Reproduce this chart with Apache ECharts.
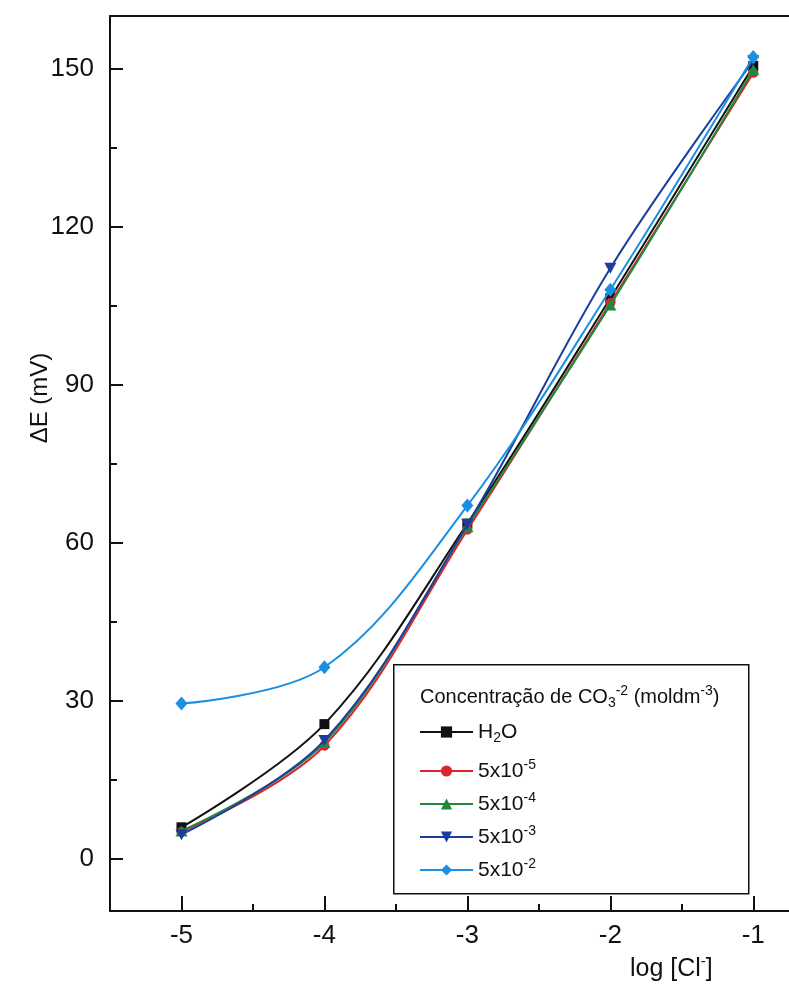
<!DOCTYPE html>
<html>
<head>
<meta charset="utf-8">
<script src="https://cdn.jsdelivr.net/npm/echarts@6/dist/echarts.min.js"></script>
<style>
html,body{margin:0;padding:0;background:#fff;}
#chart{width:789px;height:985px;}
</style>
</head>
<body>
<div id="chart"></div>
<script>
// ---- data ----
const logCl = [-5, -4, -3, -2, -1];
const seriesNames = ['H2O', '5x10-5', '5x10-4', '5x10-3', '5x10-2'];
const valH2O  = [5.9, 25.5, 63.6, 106.4, 150.5];
const val5e5  = [5.0, 21.4, 62.4, 105.5, 149.2];
const val5e4  = [5.2, 22.0, 63.0, 105.1, 149.8];
const val5e3  = [4.5, 22.4, 63.4, 112.1, 151.5];
const val5e2  = [29.4, 36.3, 67.0, 108.0, 152.2];
const yMajorTicks = [0, 30, 60, 90, 120, 150];
const yMinorTicks = [15, 45, 75, 105, 135];
const xMajorTicks = [-5, -4, -3, -2, -1];
const xMinorTicks = [-4.5, -3.5, -2.5, -1.5];

const allValues = [valH2O, val5e5, val5e4, val5e3, val5e2];
const colors = ['#111111', '#d9262e', '#1d8a3e', '#1c3d9f', '#1b8fe0'];
const symbols = ['rect', 'circle', 'triangle', 'triangle', 'diamond'];
const symbolRot = [0, 0, 0, 180, 0];
const symbolSizes = [[10,10], [10,10], [12,11], [12,11], [12,14]];
const legendLabels = {
  'H2O': 'H{sub|2}O',
  '5x10-5': '5x10{sup|-5}',
  '5x10-4': '5x10{sup|-4}',
  '5x10-3': '5x10{sup|-3}',
  '5x10-2': '5x10{sup|-2}'
};
const legendRowY = [732, 771, 804, 837, 870];

const FONT = '"Liberation Sans", Arial, sans-serif';
const chart = echarts.init(document.getElementById('chart'));

const series = seriesNames.map((n, i) => ({
  name: n,
  type: 'line',
  smooth: 0.35,
  data: logCl.map((x, k) => [x, allValues[i][k]]),
  symbol: symbols[i],
  symbolRotate: symbolRot[i],
  symbolSize: symbolSizes[i],
  showAllSymbol: true,
  lineStyle: { color: colors[i], width: 2 },
  itemStyle: { color: colors[i] },
  z: 2 + i
}));

const richText = {
  sup: { fontSize: 14, fontFamily: FONT, color: '#111', verticalAlign: 'top', lineHeight: 26 },
  sub: { fontSize: 14, fontFamily: FONT, color: '#111', verticalAlign: 'bottom', lineHeight: 26 }
};

const legends = seriesNames.map((n, i) => ({
  data: [n],
  left: 419,
  top: legendRowY[i] - 13,
  orient: 'vertical',
  padding: 0,
  itemWidth: 53,
  itemHeight: 14,
  itemGap: 5,
  selectedMode: false,
  formatter: name => legendLabels[name],
  textStyle: {
    fontFamily: FONT, fontSize: 21, color: '#111', lineHeight: 26,
    rich: richText
  }
}));

const option = {
  animation: false,
  backgroundColor: '#ffffff',
  grid: { left: 110, top: 16, right: 0, bottom: 74, containLabel: false },
  xAxis: [
    {
      type: 'value', position: 'bottom', min: -5.5, max: -0.75,
      axisLine: { show: true, onZero: false, lineStyle: { color: '#111', width: 2 } },
      axisTick: { show: true, inside: true, length: 15, customValues: xMajorTicks, lineStyle: { color: '#111', width: 2 } },
      axisLabel: { show: true, customValues: xMajorTicks, margin: 12, fontFamily: FONT, fontSize: 26, color: '#111' },
      splitLine: { show: false }
    },
    {
      type: 'value', position: 'bottom', min: -5.5, max: -0.75,
      axisLine: { show: false, onZero: false },
      axisTick: { show: true, inside: true, length: 7, customValues: xMinorTicks, lineStyle: { color: '#111', width: 2 } },
      axisLabel: { show: false },
      splitLine: { show: false }
    },
    {
      type: 'value', position: 'top', min: -5.5, max: -0.75,
      axisLine: { show: true, onZero: false, lineStyle: { color: '#111', width: 2 } },
      axisTick: { show: false }, axisLabel: { show: false }, splitLine: { show: false }
    }
  ],
  yAxis: [
    {
      type: 'value', position: 'left', min: -10, max: 160,
      axisLine: { show: true, onZero: false, lineStyle: { color: '#111', width: 2 } },
      axisTick: { show: true, inside: true, length: 13, customValues: yMajorTicks, lineStyle: { color: '#111', width: 2 } },
      axisLabel: { show: true, customValues: yMajorTicks, margin: 16, fontFamily: FONT, fontSize: 26, color: '#111' },
      splitLine: { show: false }
    },
    {
      type: 'value', position: 'left', min: -10, max: 160,
      axisLine: { show: false, onZero: false },
      axisTick: { show: true, inside: true, length: 7, customValues: yMinorTicks, lineStyle: { color: '#111', width: 2 } },
      axisLabel: { show: false },
      splitLine: { show: false }
    }
  ],
  legend: legends,
  graphic: [
    {
      type: 'rect', left: 393, top: 664, z: 1,
      shape: { width: 355, height: 229 },
      style: { fill: '#fff', stroke: '#111', lineWidth: 1.5 }
    },
    {
      type: 'text', left: 420, top: 684, z: 10,
      style: {
        text: 'Concentração de CO{sub|3}{sup|-2} (moldm{sup|-3})',
        fontFamily: FONT, fontSize: 20, fill: '#111', lineHeight: 26,
        rich: {
          sup: { fontSize: 14, fontFamily: FONT, fill: '#111', verticalAlign: 'top', lineHeight: 26 },
          sub: { fontSize: 14, fontFamily: FONT, fill: '#111', verticalAlign: 'bottom', lineHeight: 26 }
        }
      }
    },
    {
      type: 'text', x: 40, y: 398, rotation: Math.PI / 2, z: 10,
      style: {
        text: 'ΔE (mV)', fontFamily: FONT, fontSize: 24, fill: '#111',
        align: 'center', verticalAlign: 'middle'
      }
    },
    {
      type: 'text', left: 630, top: 954, z: 10,
      style: {
        text: 'log [Cl{sup|-}]', fontFamily: FONT, fontSize: 25, fill: '#111', lineHeight: 30,
        rich: {
          sup: { fontSize: 15, fontFamily: FONT, fill: '#111', verticalAlign: 'top', lineHeight: 30 }
        }
      }
    }
  ],
  series: series
};
chart.setOption(option);
</script>
</body>
</html>
